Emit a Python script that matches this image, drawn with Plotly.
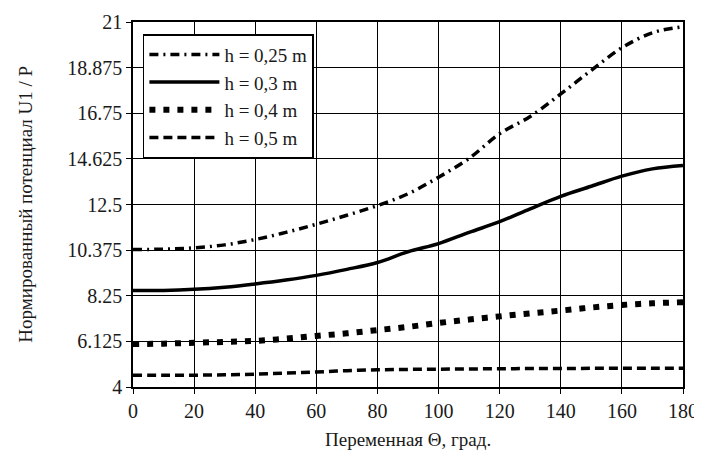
import plotly.graph_objects as go

theta = [0, 10, 20, 30, 40, 50, 60, 70, 80, 90, 100, 110, 120, 130, 140, 150, 160, 170, 180]
h025 = [10.4, 10.42, 10.48, 10.62, 10.87, 11.2, 11.58, 12.0, 12.45, 13.0, 13.77, 14.65, 15.8, 16.6, 17.65, 18.75, 19.8, 20.5, 20.78]
h03 = [8.5, 8.5, 8.55, 8.65, 8.8, 8.98, 9.2, 9.48, 9.8, 10.3, 10.68, 11.2, 11.7, 12.3, 12.88, 13.35, 13.82, 14.16, 14.32]
h04 = [6.0, 6.02, 6.06, 6.1, 6.15, 6.25, 6.38, 6.5, 6.65, 6.8, 6.98, 7.14, 7.29, 7.43, 7.56, 7.7, 7.82, 7.9, 7.95]
h05 = [4.55, 4.55, 4.55, 4.57, 4.6, 4.65, 4.7, 4.76, 4.8, 4.82, 4.83, 4.84, 4.85, 4.86, 4.86, 4.87, 4.87, 4.87, 4.87]

series_names = ["h = 0,25 m", "h = 0,3 m", "h = 0,4 m", "h = 0,5 m"]
x_ticks = [0, 20, 40, 60, 80, 100, 120, 140, 160, 180]
y_ticks = [4, 6.125, 8.25, 10.375, 12.5, 14.625, 16.75, 18.875, 21]
y_ticktext = ["4", "6.125", "8.25", "10.375", "12.5", "14.625", "16.75", "18.875", "21"]
x_title = "Переменная Θ, град."
y_title = "Нормированный потенциал U1 / P"

FONT = "Liberation Serif"
TXT = "#1a1a1a"

styles = [
    dict(width=3.5, dash="9px,5px,2px,5px"),
    dict(width=3.5, dash="solid"),
    dict(width=6, dash="6px,8px"),
    dict(width=3.5, dash="9px,5px"),
]

fig = go.Figure()
for name, ys, st in zip(series_names, [h025, h03, h04, h05], styles):
    fig.add_trace(go.Scatter(
        x=theta, y=ys, mode="lines", name=name, legendgroup=name,
        line=dict(color="black", width=st["width"], dash=st["dash"], shape="spline"),
    ))

axis_common = dict(
    showline=True, linecolor="black", linewidth=1.5, mirror=True,
    showgrid=True, gridcolor="black", gridwidth=1.4,
    ticks="outside", ticklen=5, tickcolor="black", tickwidth=1,
    tickfont=dict(family=FONT, size=20, color=TXT),
    zeroline=False, automargin=False,
)

# page body has an 8px margin, so the figure is 8px smaller than the window
fig.update_layout(
    width=694, height=449,
    margin=dict(l=125, r=19, t=14, b=70),
    paper_bgcolor="white", plot_bgcolor="white",
    xaxis=dict(range=[0, 180], tickvals=x_ticks, **axis_common),
    yaxis=dict(range=[4, 21], tickvals=y_ticks, ticktext=y_ticktext, **axis_common),
    legend=dict(x=0.018, y=0.967, xanchor="left", yanchor="top",
                bgcolor="white", bordercolor="black", borderwidth=1.5,
                font=dict(family=FONT, size=19, color=TXT),
                tracegroupgap=0, itemwidth=70),
    showlegend=True,
    annotations=[
        dict(text=x_title, xref="paper", yref="paper", x=0.5, y=-0.145,
             xanchor="center", yanchor="middle", showarrow=False,
             font=dict(family=FONT, size=19, color=TXT)),
        dict(text=y_title, xref="paper", yref="paper", x=-0.196, y=0.5,
             xanchor="center", yanchor="middle", showarrow=False, textangle=-90,
             font=dict(family=FONT, size=19, color=TXT)),
    ],
)

fig.write_html("out.html")
